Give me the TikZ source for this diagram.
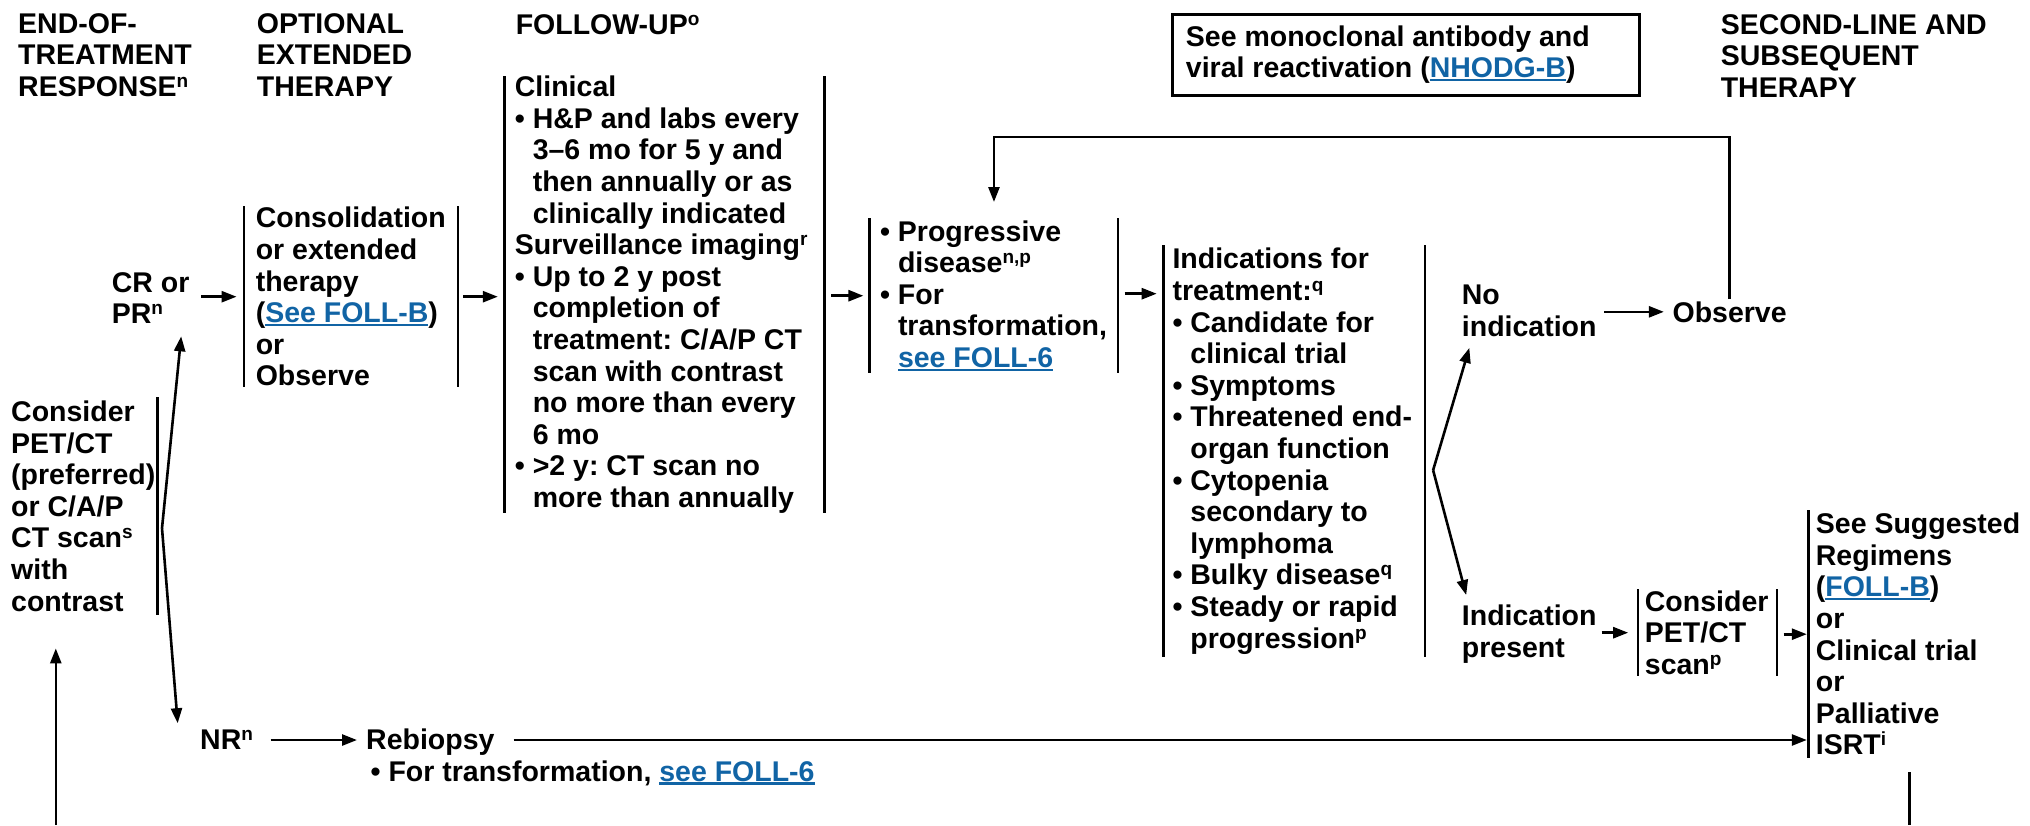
\documentclass[tikz,border=0pt]{standalone}
\usepackage{fontspec}
\setmainfont{Liberation Sans}
\usetikzlibrary{arrows.meta,calc}
\definecolor{lnkblue}{RGB}{17,100,165}
\newsavebox\lnkbox
\newcommand\spx[1]{\raisebox{9pt}{\fontsize{19}{19}\selectfont #1}}
\newcommand\lnk[1]{\textcolor{lnkblue}{\sbox\lnkbox{#1}\rlap{\rule[-3.5pt]{\wd\lnkbox}{2.2pt}}\usebox\lnkbox}}
\newcommand\bhang{\hphantom{\textbullet\ }}
\frenchspacing
\begin{document}
\begin{tikzpicture}[x=1pt,y=-1pt,
  every node/.style={font=\fontsize{28.5}{31.6}\selectfont\bfseries\frenchspacing, inner sep=0pt, align=left},
  frame/.style={draw=none, inner sep=0pt, anchor=north west},
  bar/.style={line width=2.3pt},
  ln/.style={line width=2.6pt},
  arr/.style={line width=2.6pt, -{Triangle[length=15pt,width=11pt]}},
]
\useasboundingbox (0,0) rectangle (2030,825);

% headers
\node[anchor=north west] (h1) at (18,13) {END-OF-\\TREATMENT\\RESPONSE\spx{n}};
\node[anchor=north west] (h2) at (256.7,13) {OPTIONAL\\EXTENDED\\THERAPY};
\node[anchor=base west] (h3) at (515.6,34) {FOLLOW-UP\spx{o}};
\node[anchor=north west] (h4) at (1720.6,14) {SECOND-LINE AND\\SUBSEQUENT\\THERAPY};

% monoclonal box
\node[frame, minimum width=466.6pt, minimum height=81pt] (mabF) at (1172.3,14) {};
\draw[line width=3pt] (mabF.north west) rectangle (mabF.south east);
\node[anchor=west] (mab) at ($(mabF.west)+(13.4,0)$) {See monoclonal antibody and\\viral reactivation (\lnk{NHODG-B})};

% frames
\node[frame, minimum width=157pt, minimum height=218pt] (cons0F) at (0,397) {};
\node[frame, minimum width=213.6pt, minimum height=181pt] (consF) at (244,206) {};
\node[frame, minimum width=319.6pt, minimum height=437pt] (clinF) at (504.5,76) {};
\node[frame, minimum width=248.3pt, minimum height=155pt] (progF) at (869.6,218) {};
\node[frame, minimum width=261.2pt, minimum height=412pt] (indF) at (1163.4,245) {};
\node[frame, minimum width=138.4pt, minimum height=87pt] (cpetF) at (1638,589) {};
\node[frame, minimum width=221.4pt, minimum height=248pt] (ssrF) at (1808.6,510) {};

\draw[bar] (cons0F.north east) -- (cons0F.south east);
\foreach \f in {consF,clinF,progF,indF,cpetF}{
  \draw[bar] (\f.north west) -- (\f.south west) (\f.north east) -- (\f.south east);
}
\draw[bar] (ssrF.north west) -- (ssrF.south west);

% box texts
\node[anchor=west] (cons0) at ($(cons0F.west)+(11,0)$) {Consider\\PET/CT\\(preferred)\\or C/A/P\\CT scan\spx{s}\\with\\contrast};
\node[anchor=west] (cons) at ($(consF.west)+(11.6,0)$) {Consolidation\\or extended\\therapy\\(\lnk{See FOLL-B})\\or\\Observe};
\node[anchor=west] (clin) at ($(clinF.west)+(10.2,0)$) {Clinical\\\textbullet\ H\&P and labs every\\\bhang 3–6 mo for 5 y and\\\bhang then annually or as\\\bhang clinically indicated\\Surveillance imaging\spx{r}\\\textbullet\ Up to 2 y post\\\bhang completion of\\\bhang treatment: C/A/P CT\\\bhang scan with contrast\\\bhang no more than every\\\bhang 6 mo\\\textbullet\ >2 y: CT scan no\\\bhang more than annually};
\node[anchor=west] (prog) at ($(progF.west)+(10.3,0)$) {\textbullet\ Progressive\\\bhang disease\spx{n,p}\\\textbullet\ For\\\bhang transformation,\\\bhang \lnk{see FOLL-6}};
\node[anchor=west] (ind) at ($(indF.west)+(8.9,0)$) {Indications for\\treatment:\spx{q}\\\textbullet\ Candidate for\\\bhang clinical trial\\\textbullet\ Symptoms\\\textbullet\ Threatened end-\\\bhang organ function\\\textbullet\ Cytopenia\\\bhang secondary to\\\bhang lymphoma\\\textbullet\ Bulky disease\spx{q}\\\textbullet\ Steady or rapid\\\bhang progression\spx{p}};
\node[anchor=west] (cpet) at ($(cpetF.west)+(6.7,0)$) {Consider\\PET/CT\\scan\spx{p}};
\node[anchor=west] (ssr) at ($(ssrF.west)+(7.1,0)$) {See Suggested\\Regimens\\(\lnk{FOLL-B})\\or\\Clinical trial\\or\\Palliative\\ISRT\spx{i}};

% free texts
\node[anchor=north west] (cr) at (111.6,272) {CR or\\PR\spx{n}};
\node[anchor=north west] (noind) at (1461.7,285) {No\\indication};
\node[anchor=north west] (indp) at (1461.7,605) {Indication\\present};
\node[anchor=base west] (obs) at (1672.4,322) {Observe};
\node[anchor=base west] (nr) at (200,749) {NR\spx{n}};
\node[anchor=base west] (reb) at (366,749) {Rebiopsy};
\node[anchor=base west] (rebs) at (370.5,781) {\textbullet\ For transformation, \lnk{see FOLL-6}};

% connectors
\coordinate (v0) at ($(cons0F.east)+(4.6,22)$);
\coordinate (v1) at ($(indF.east)+(8.1,19)$);
\coordinate (inL) at (55.8,825);
\coordinate (outR) at (1909.5,825);

\draw[arr] ($(cr.east |- consF.west)+(11.7,0)$) -- ($(consF.west)+(-7.4,0)$);
\draw[arr] ($(consF.east)+(5.4,0)$) -- ($(consF.east -| clinF.west)+(-6.7,0)$);
\draw[arr] ($(clinF.east |- progF.west)+(6.7,0)$) -- ($(progF.west)+(-6.2,0)$);
\draw[arr] ($(progF.east)+(6.2,-2)$) -- ($(progF.east -| indF.west)+(-6.7,-2)$);
\draw[arr] (v1) -- ($(noind.south west)+(7.6,11)$);
\draw[arr] (v1) -- ($(indp.north west)+(4.5,-10)$);
\draw[arr] ($(noind.east |- obs.west)+(7.4,0)$) -- ($(obs.west)+(-8.5,0)$);
\draw[arr] ($(obs.north)+(0,-2)$) |- ($(progF.north)+(0,-81)$) -- ($(progF.north)+(0,-16)$);
\draw[arr] ($(indp.east |- cpetF.west)+(5,0)$) -- ($(cpetF.west)+(-9.8,0)$);
\draw[arr] ($(cpetF.east |- ssrF.west)+(6.7,0)$) -- ($(ssrF.west)+(-1.8,0)$);
\draw[arr] (v0) -- ($(cr.south east)+(-8.4,12.4)$);
\draw[arr] (v0) -- ($(nr.north west)+(-22.3,-6)$);
\draw[arr] ($(nr.base east)+(17.5,-9)$) -- ($(reb.base west)+(-9,-9)$);
\draw[arr] ($(reb.base east)+(19,-9)$) -- ($(reb.base east -| ssrF.west)+(-1.8,-9)$);
\draw[arr] (inL) -- ($(inL |- cons0F.south)+(0,33)$);
\draw[ln] ($(outR |- ssrF.south)+(0,14)$) -- (outR);
\end{tikzpicture}
\end{document}
